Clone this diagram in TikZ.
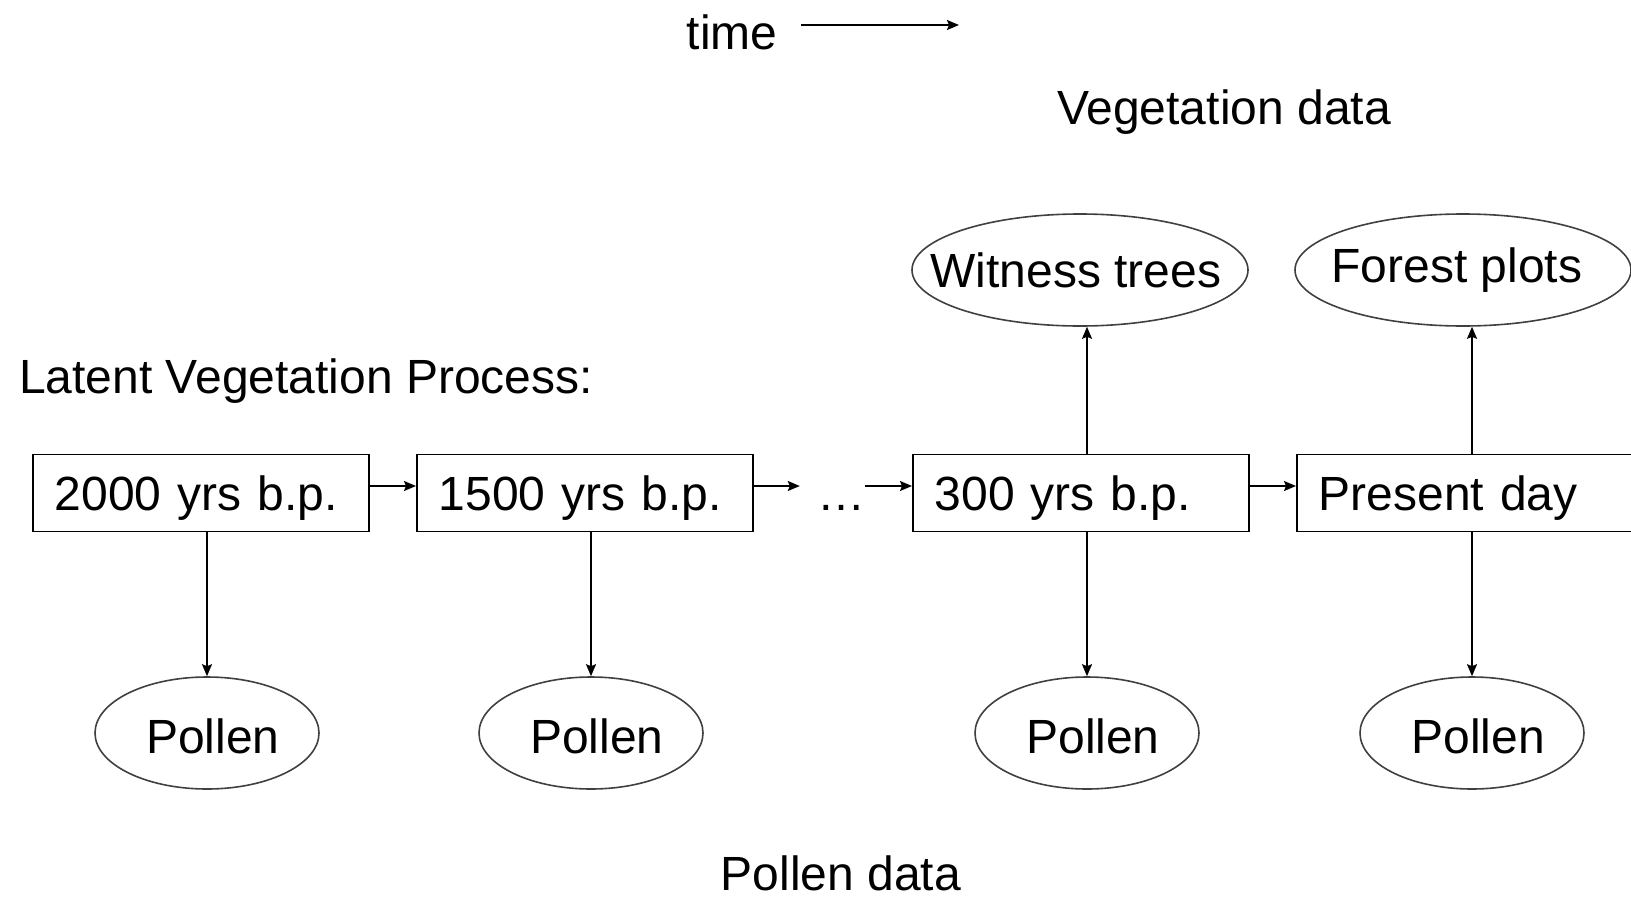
\documentclass[tikz,border=0pt]{standalone}
\usepackage{fontspec}
\setmainfont{Liberation Sans}
\usetikzlibrary{shapes.geometric,arrows.meta}
\begin{document}
\begin{tikzpicture}[x=1pt,y=-1pt,
  every node/.style={font=\fontsize{48}{56}\selectfont},
  lbl/.style={inner sep=0pt},
  stage/.style={draw, line width=1.8pt, minimum width=336pt, minimum height=77pt,
    inner sep=0pt, text width=292pt, align=left, text depth=0pt, anchor=west},
  obs/.style={ellipse, draw=black!75, line width=1.6pt, minimum width=336pt,
    minimum height=112pt, inner sep=0pt},
  pol/.style={obs, minimum width=224pt},
  arr/.style={line width=1.6pt, -{Stealth[length=12pt,width=10pt,inset=2pt]}}]
\useasboundingbox (0,0) rectangle (1631,897);
% titles
\node[lbl, anchor=base] (time) at (732,49) {time};
\coordinate (ts) at (801,25);
\coordinate (te) at (959,25);
\draw[arr] (ts) -- (te);
\node[lbl, anchor=base] (vd) at (1224,124) {Vegetation data};
\node[lbl, anchor=base west] (lvp) at (19,393) {Latent Vegetation Process:};
\node[lbl, anchor=base] (pd) at (841,890) {Pollen data};
% stages
\node[stage] (b1) at (32,493) {2000 yrs b.p.};
\node[stage] (b2) at (416,493) {1500 yrs b.p.};
\node[stage] (b3) at (912,493) {300 yrs b.p.};
\node[stage, minimum width=380pt, text width=336pt] (b4) at (1296,493) {Present day};
\node[lbl, anchor=base] (dots) at (841,510) {\dots};
% observations
\node[obs, label={[lbl, xshift=-4pt]center:Witness trees}] (w) at (1080,270) {};
\node[obs, label={[lbl, xshift=-6pt]center:Forest plots}] (f) at (1463,270) {};
\node[pol, label={[lbl, xshift=6pt, yshift=-3pt]center:Pollen}] (p1) at (207,733) {};
\node[pol, label={[lbl, xshift=6pt, yshift=-3pt]center:Pollen}] (p2) at (591,733) {};
\node[pol, label={[lbl, xshift=6pt, yshift=-3pt]center:Pollen}] (p3) at (1087,733) {};
\node[pol, label={[lbl, xshift=6pt, yshift=-3pt]center:Pollen}] (p4) at (1472,733) {};
% horizontal arrows
\draw[arr] ([yshift=7pt]b1.east) -- ([yshift=7pt]b1.east -| b2.west);
\draw[arr, shorten >=17pt] ([yshift=7pt]b2.east) -- ([yshift=7pt]b2.east -| dots.west);
\draw[arr] ([yshift=7pt]b3.west -| dots.east) -- ([yshift=7pt]b3.west);
\draw[arr] ([yshift=7pt]b3.east) -- ([yshift=7pt]b3.east -| b4.west);
% down arrows
\draw[arr] (b1.south -| p1) -- (p1.north);
\draw[arr] (b2.south -| p2) -- (p2.north);
\draw[arr] (b3.south -| p3) -- (p3.north);
\draw[arr] (b4.south -| p4) -- (p4.north);
% up arrows
\draw[arr] (b3.north -| p3) -- (p3 |- w.south);
\draw[arr] (b4.north -| p4) -- (p4 |- f.south);
\end{tikzpicture}
\end{document}
